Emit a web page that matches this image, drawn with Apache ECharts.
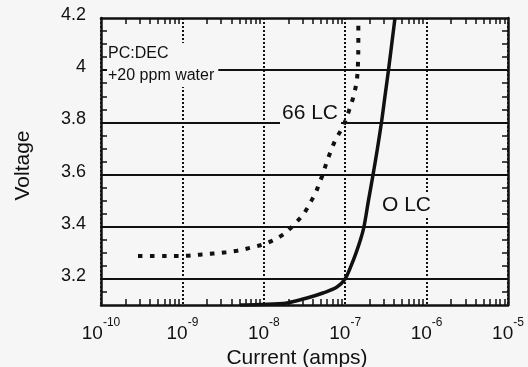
<!DOCTYPE html>
<html>
<head>
<meta charset="utf-8">
<script src="https://cdn.jsdelivr.net/npm/echarts@6/dist/echarts.min.js"></script>
<style>
html,body{margin:0;padding:0;background:#f6f6f6;}
#chart{width:528px;height:367px;}
</style>
</head>
<body>
<div id="chart"></div>
<script>
// ---- data ----
const currentTicks = [1e-10, 1e-9, 1e-8, 1e-7, 1e-6, 1e-5];
const voltageTicks = [3.2, 3.4, 3.6, 3.8, 4.0, 4.2];

const lc66Current = [2.85e-10, 5.8e-10, 8.6e-10, 1.17e-9, 1.74e-9, 2.38e-9, 3.44e-9, 4.7e-9, 7.0e-9, 9.5e-9,
  1.26e-8, 1.67e-8, 2.04e-8, 2.42e-8, 2.94e-8, 3.4e-8, 3.8e-8, 4.38e-8, 4.8e-8, 5.3e-8,
  5.75e-8, 6.3e-8, 6.95e-8, 7.8e-8, 9.2e-8, 1.03e-7, 1.13e-7, 1.23e-7, 1.32e-7, 1.39e-7,
  1.43e-7, 1.45e-7, 1.45e-7];
const lc66Voltage = [3.288, 3.288, 3.288, 3.289, 3.294, 3.297, 3.302, 3.308, 3.320, 3.331,
  3.346, 3.367, 3.389, 3.413, 3.440, 3.470, 3.497, 3.533, 3.567, 3.600,
  3.635, 3.670, 3.705, 3.740, 3.778, 3.815, 3.851, 3.886, 3.924, 3.962,
  4.012, 4.10, 4.19];

const olcCurrent = [5.1e-9, 8.97e-9, 1.93e-8, 3.4e-8, 5.33e-8, 7.92e-8, 9.95e-8, 1.18e-7, 1.36e-7, 1.54e-7,
  1.70e-7, 1.93e-7, 2.20e-7, 2.49e-7, 2.79e-7, 3.08e-7, 3.40e-7, 3.73e-7, 4.09e-7];
const olcVoltage = [3.100, 3.102, 3.108, 3.127, 3.146, 3.169, 3.200, 3.250, 3.300, 3.350,
  3.400, 3.500, 3.600, 3.700, 3.800, 3.900, 4.000, 4.100, 4.200];

const voltageMin = 3.1, voltageMax = 4.2;

// ---- helpers ----
const currentMinor = [];
for (let i = 0; i < currentTicks.length - 1; i++) {
  for (let k = 2; k <= 9; k++) currentMinor.push(Number((k * currentTicks[i]).toPrecision(3)));
}
const voltageMinor = [];
for (let v = 3.15; v < 4.18; v += 0.05) voltageMinor.push(Math.round(v * 100) / 100);

const FONT = 'Liberation Sans, Arial, Helvetica, sans-serif';
const BG = '#f6f6f6';
const INK = '#111';

function zip(a, b) { return a.map((x, i) => [x, b[i]]); }

const chart = echarts.init(document.getElementById('chart'), null, {renderer: 'canvas'});

const baseX = {type: 'log', logBase: 10, min: 1e-10, max: 1e-5, gridIndex: 0};
const baseY = {type: 'value', min: voltageMin, max: voltageMax, gridIndex: 0};

chart.setOption({
  backgroundColor: BG,
  animation: false,
  grid: {left: 101, right: 20, top: 18, bottom: 62, containLabel: false, outerBoundsMode: 'none'},
  xAxis: [
    Object.assign({}, baseX, {
      position: 'bottom',
      name: 'Current (amps)', nameLocation: 'middle', nameGap: 43,
      nameTextStyle: {fontFamily: FONT, fontSize: 21, color: INK, padding: [0, 15, 0, 0]},
      axisLine: {show: true, lineStyle: {color: INK, width: 2.5}},
      axisTick: {show: false, customValues: currentTicks},
      axisLabel: {
        customValues: currentTicks, margin: 12,
        formatter: function (v) {
          const e = Math.round(Math.log10(v));
          return '{b|10}{s|' + e + '}';
        },
        rich: {
          b: {fontFamily: FONT, fontSize: 19, color: INK, lineHeight: 26, verticalAlign: 'bottom'},
          s: {fontFamily: FONT, fontSize: 12, color: INK, lineHeight: 26, verticalAlign: 'top'}
        }
      },
      splitLine: {show: true, lineStyle: {color: INK, width: 2, type: [2, 2]}}
    }),
    Object.assign({}, baseX, {
      position: 'bottom',
      axisLine: {show: false},
      axisTick: {show: true, inside: true, length: 6, customValues: currentMinor, lineStyle: {color: INK, width: 1.5}},
      axisLabel: {show: false},
      splitLine: {show: false}
    }),
    Object.assign({}, baseX, {
      position: 'top',
      axisLine: {show: true, lineStyle: {color: INK, width: 2.5}},
      axisTick: {show: true, inside: true, length: 6, customValues: currentMinor, lineStyle: {color: INK, width: 1.5}},
      axisLabel: {show: false},
      splitLine: {show: false}
    })
  ],
  yAxis: [
    Object.assign({}, baseY, {
      position: 'left',
      name: 'Voltage', nameLocation: 'middle', nameGap: 67,
      nameTextStyle: {fontFamily: FONT, fontSize: 21, color: INK, padding: [0, 8, 0, 0]},
      axisLine: {show: true, lineStyle: {color: INK, width: 2.5}},
      axisTick: {show: false, customValues: voltageTicks.slice(0, 5)},
      axisLabel: {
        customValues: voltageTicks, margin: 15,
        fontFamily: FONT, fontSize: 18, color: INK,
        verticalAlign: 'bottom', lineHeight: 6
      },
      splitLine: {show: true, lineStyle: {color: INK, width: 2}}
    }),
    Object.assign({}, baseY, {
      position: 'left',
      axisLine: {show: false},
      axisTick: {show: true, inside: true, length: 6, customValues: voltageMinor, lineStyle: {color: INK, width: 1.5}},
      axisLabel: {show: false},
      splitLine: {show: false}
    }),
    Object.assign({}, baseY, {
      position: 'right',
      axisLine: {show: true, lineStyle: {color: INK, width: 2.5}},
      axisTick: {show: true, inside: true, length: 6, customValues: voltageMinor, lineStyle: {color: INK, width: 1.5}},
      axisLabel: {show: false},
      splitLine: {show: false}
    })
  ],
  graphic: [
    {type: 'text', z: 1, left: 107, top: 43,
     style: {text: 'PC:DEC\n+20 ppm water', font: '16px ' + FONT, fill: INK, lineHeight: 22,
             backgroundColor: BG, padding: [0, 4, 0, 1]}},
    {type: 'text', z: 1, left: 280, top: 101,
     style: {text: '66 LC', font: '21px ' + FONT, fill: INK, lineHeight: 24,
             backgroundColor: BG, padding: [0, 3, 0, 2]}},
    {type: 'text', z: 1, left: 380, top: 193,
     style: {text: 'O LC', font: '21px ' + FONT, fill: INK, lineHeight: 24,
             backgroundColor: BG, padding: [0, 3, 0, 2]}}
  ],
  series: [
    {
      name: '66 LC', type: 'line', xAxisIndex: 0, yAxisIndex: 0,
      data: zip(lc66Current, lc66Voltage), showSymbol: false, smooth: 0.35,
      lineStyle: {color: INK, width: 4, type: [4.5, 7.5], cap: 'butt'}, z: 3
    },
    {
      name: 'O LC', type: 'line', xAxisIndex: 0, yAxisIndex: 0,
      data: zip(olcCurrent, olcVoltage), showSymbol: false, smooth: 0.35,
      lineStyle: {color: INK, width: 3.5}, z: 3
    }
  ]
});
</script>
</body>
</html>
